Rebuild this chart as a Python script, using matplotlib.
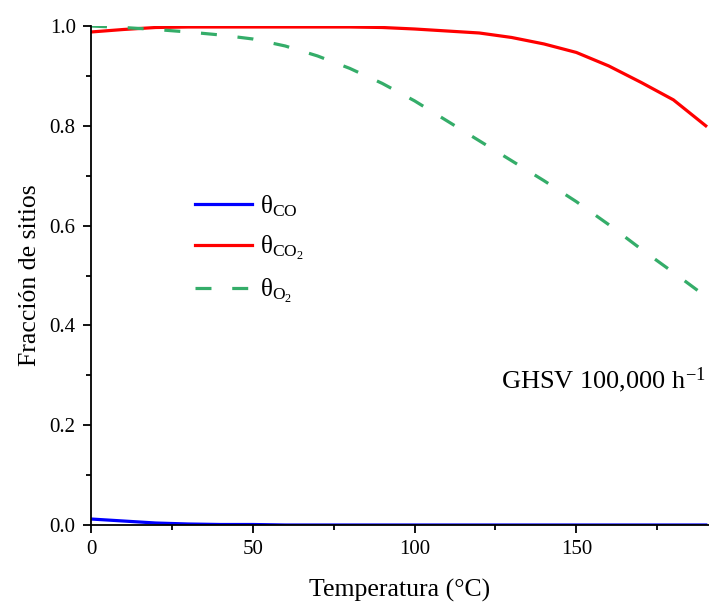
import matplotlib
matplotlib.use("Agg")
import matplotlib.pyplot as plt
from matplotlib.ticker import MultipleLocator

plt.rcParams['font.family'] = ['Liberation Serif', 'DejaVu Serif']
plt.rcParams['mathtext.fontset'] = 'custom'
plt.rcParams['mathtext.rm'] = 'Liberation Serif'
plt.rcParams['mathtext.it'] = 'Liberation Serif:italic'

# temperature (C) and site fractions
temp = [0, 10, 20, 30, 40, 50, 60, 70, 80, 90, 100, 110, 120, 130, 140, 150, 160, 170, 180, 190]
theta_co = [0.012, 0.008, 0.004, 0.002, 0.001, 0.001, 0.0, 0.0, 0.0, 0.0,
            0.0, 0.0, 0.0, 0.0, 0.0, 0.0, 0.0, 0.0, 0.0, 0.0]
theta_co2 = [0.988, 0.993, 0.997, 0.998, 0.998, 0.998, 0.998, 0.998, 0.998, 0.997,
             0.994, 0.99, 0.986, 0.977, 0.964, 0.947, 0.92, 0.887, 0.852, 0.80]
theta_o2 = [1.0, 0.997, 0.993, 0.988, 0.982, 0.974, 0.96, 0.94, 0.915, 0.885,
            0.85, 0.81, 0.77, 0.73, 0.69, 0.648, 0.602, 0.553, 0.506, 0.458]

fig = plt.figure(figsize=(7.09, 6.04), dpi=100)
ax = fig.add_axes([91 / 709, 79 / 604, 618 / 709, 499 / 604])

ax.plot(temp, theta_co, color='#0000ff', lw=2.3, label='θ$_{\\mathrm{CO}}$')
ax.plot(temp, theta_co2, color='#ff0000', lw=2.3, label='θ$_{\\mathrm{CO_2}}$')
ax.plot(temp, theta_o2, color='#34ad69', lw=2.3, dashes=(5, 6.5), label='θ$_{\\mathrm{O_2}}$')

ax.set_xlim(0, 191)
ax.set_ylim(0, 1.0)
ax.xaxis.set_major_locator(MultipleLocator(50))
ax.xaxis.set_minor_locator(MultipleLocator(25))
ax.yaxis.set_major_locator(MultipleLocator(0.2))
ax.yaxis.set_minor_locator(MultipleLocator(0.1))
ax.yaxis.set_major_formatter(plt.FormatStrFormatter('%.1f'))

for side in ['top', 'right']:
    ax.spines[side].set_visible(False)
for side in ['left', 'bottom']:
    ax.spines[side].set_linewidth(1.3)
ax.tick_params(which='major', direction='out', length=6, width=1.3, labelsize=15, pad=5)
ax.tick_params(which='minor', direction='out', length=3.5, width=1.3)

ax.set_xlabel('Temperatura (°C)', fontsize=18.5, labelpad=14)
ax.set_ylabel('Fracción de sitios', fontsize=18.5, labelpad=6)

ax.legend(loc='upper left', bbox_to_anchor=(0.148, 0.69), frameon=False, fontsize=18,
          handlelength=2.3, handletextpad=0.3, borderpad=0, labelspacing=0.6)

ax.text(0.995, 0.29, 'GHSV 100,000 h$^{\\mathrm{-1}}$', transform=ax.transAxes,
        ha='right', va='center', fontsize=19)

fig.savefig('out.png', dpi=100)
